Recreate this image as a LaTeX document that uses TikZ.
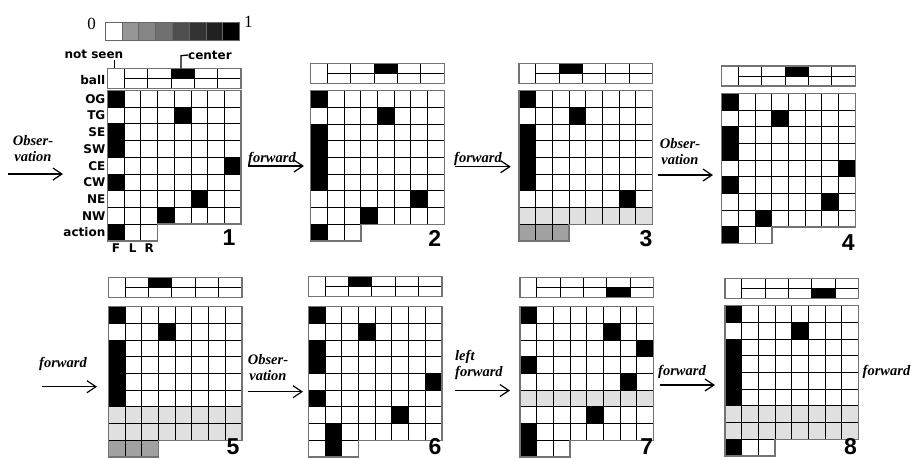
\documentclass[tikz,border=0pt]{standalone}
\usepackage{fontspec}
\setmainfont{Liberation Serif}
\newfontfamily\lblfont{DejaVu Sans}
\newfontfamily\numfont{Liberation Sans}
\usetikzlibrary{arrows.meta}
\def\cs{16.7}
\def\bw{23.38}
\newcommand{\cellk}[3]{\fill[#3] ({(#1-1)*\cs},{(#2-1)*\cs}) rectangle ++(\cs,\cs);}
\newcommand{\rowk}[2]{\fill[#2] (0,{(#1-1)*\cs}) rectangle ++(8*\cs,\cs);}
\newcommand{\ballk}[2]{\fill[black] ({\cs+(#1-1)*\bw},{\by+(#2-1)*10}) rectangle ++(\bw,10);}
\newcommand{\board}[5]{%
\begin{scope}[shift={(#2,#3)}]
  \def\by{#4}
  #5
  \foreach \i in {1,...,7} \draw[gline] (\i*\cs,0) -- (\i*\cs,8*\cs);
  \foreach \i in {1,2} \draw[gline] (\i*\cs,8*\cs) -- (\i*\cs,9*\cs);
  \foreach \j in {1,...,7} \draw[gline] (0,\j*\cs) -- (8*\cs,\j*\cs);
  \draw[gline] (0,8*\cs) -- (3*\cs,8*\cs);
  \draw[gborder] (0,0) -- (8*\cs,0) -- (8*\cs,8*\cs) -- (3*\cs,8*\cs) -- (3*\cs,9*\cs) -- (0,9*\cs) -- cycle;
  \draw[gline] (\cs,#4+10) -- (8*\cs,#4+10);
  \foreach \k in {0,...,4} \draw[gline] (\cs+\k*\bw,#4) -- (\cs+\k*\bw,#4+20);
  \draw[gborder] (0,#4) rectangle (8*\cs,#4+20);
  \coordinate (#1) at (0,0);
\end{scope}}
\tikzset{
  gline/.style={line width=0.9pt, draw=black},
  gborder/.style={line width=1.4pt, draw=black!55},
  rowlbl/.style={font=\lblfont\bfseries\fontsize{12}{12}\selectfont, anchor=east, inner sep=0pt},
  toplbl/.style={font=\lblfont\bfseries\fontsize{12}{12}\selectfont, inner sep=0pt},
  act/.style={font=\bfseries\itshape\fontsize{14.5}{14.5}\selectfont, inner sep=0pt, anchor=base},
  flow/.style={line width=1.2pt, -{Straight Barb[length=9pt,width=12pt]}},
  bignum/.style={font=\numfont\bfseries\fontsize{23}{23}\selectfont, inner sep=0pt},
  lgray/.style={fill=black!12},
  mgray/.style={fill=black!37},
  bar/.style={draw=black!60, line width=0.6pt}
}
\begin{document}
\begin{tikzpicture}[x=1pt,y=-1pt]
\useasboundingbox (0,0) rectangle (911,459);
% colour scale
\foreach \c [count=\n from 0] in {white,black!41,black!48,black!56,black!69,black!80,black!87,black}
  \fill[\c] (105+\n*16.8,22.3) rectangle ++(16.8,17.7);
\foreach \n in {0,...,7} \draw[bar] (105+\n*16.8,22.3) rectangle ++(16.8,17.7);
\node[font=\fontsize{17}{17}\selectfont, inner sep=0pt] (zero) at (91.7,23.5) {0};
\node[font=\fontsize{17}{17}\selectfont, inner sep=0pt] (one) at (248.3,22) {1};

% boards
\board{g1}{107.5}{90.5}{-22.2}{\cellk{1}{1}{black}\cellk{5}{2}{black}\cellk{1}{3}{black}\cellk{1}{4}{black}\cellk{8}{5}{black}\cellk{1}{6}{black}\cellk{6}{7}{black}\cellk{4}{8}{black}\cellk{1}{9}{black}\ballk{3}{1}}
\board{g2}{310.7}{90.7}{-27.4}{\cellk{1}{1}{black}\cellk{5}{2}{black}\cellk{1}{3}{black}\cellk{1}{4}{black}\cellk{1}{5}{black}\cellk{1}{6}{black}\cellk{7}{7}{black}\cellk{4}{8}{black}\cellk{1}{9}{black}\ballk{3}{1}}
\board{g3}{519}{90.7}{-27.4}{\cellk{1}{1}{black}\cellk{4}{2}{black}\cellk{1}{3}{black}\cellk{1}{4}{black}\cellk{1}{5}{black}\cellk{1}{6}{black}\cellk{7}{7}{black}\rowk{8}{lgray}\cellk{1}{9}{mgray}\cellk{2}{9}{mgray}\cellk{3}{9}{mgray}\ballk{2}{1}}
\board{g4}{721.7}{93.3}{-27.3}{\cellk{1}{1}{black}\cellk{4}{2}{black}\cellk{1}{3}{black}\cellk{1}{4}{black}\cellk{8}{5}{black}\cellk{1}{6}{black}\cellk{7}{7}{black}\cellk{3}{8}{black}\cellk{1}{9}{black}\ballk{3}{1}}
\board{g5}{108.3}{306.7}{-29}{\cellk{1}{1}{black}\cellk{4}{2}{black}\cellk{1}{3}{black}\cellk{1}{4}{black}\cellk{1}{5}{black}\cellk{1}{6}{black}\rowk{7}{lgray}\rowk{8}{lgray}\cellk{1}{9}{mgray}\cellk{2}{9}{mgray}\cellk{3}{9}{mgray}\ballk{2}{1}}
\board{g6}{308.3}{306.7}{-30}{\cellk{1}{1}{black}\cellk{4}{2}{black}\cellk{1}{3}{black}\cellk{1}{4}{black}\cellk{8}{5}{black}\cellk{1}{6}{black}\cellk{6}{7}{black}\cellk{2}{8}{black}\cellk{2}{9}{black}\ballk{2}{1}}
\board{g7}{520}{306.7}{-29.4}{\cellk{1}{1}{black}\cellk{6}{2}{black}\cellk{8}{3}{black}\cellk{1}{4}{black}\cellk{7}{5}{black}\rowk{6}{lgray}\cellk{5}{7}{black}\cellk{1}{8}{black}\cellk{1}{9}{black}\ballk{4}{2}}
\board{g8}{725}{305.7}{-27.4}{\cellk{1}{1}{black}\cellk{5}{2}{black}\cellk{1}{3}{black}\cellk{1}{4}{black}\cellk{1}{5}{black}\cellk{1}{6}{black}\rowk{7}{lgray}\rowk{8}{lgray}\cellk{1}{9}{black}\ballk{4}{2}}

% labels of board 1
\foreach \t [count=\n from 1] in {OG,TG,SE,SW,CE,CW,NE,NW,action}
  \node[rowlbl] (lbl\n) at (105.5,{90.5+(\n-0.5)*16.7}) {\t};
\node[rowlbl] (lball) at (105.5,80.3) {ball};
\node[toplbl] (lF) at (115.9,248.5) {F};
\node[toplbl] (lL) at (132.6,248.5) {L};
\node[toplbl] (lR) at (149.3,248.5) {R};
\node[toplbl, anchor=east] (lns) at (123.5,54.3) {not seen};
\coordinate (nsa) at (114.3,60);
\coordinate (nsb) at (114.3,68.3);
\draw[line width=1.3pt] (nsa) -- (nsb);
\node[toplbl, anchor=west] (lctr) at (188,55) {center};
\coordinate (cta) at (181,68.3);
\coordinate (ctb) at (181,55.7);
\draw[line width=1.3pt] (cta) -- (ctb) -- (lctr.west);

% numbers
\node[bignum] (n1) at (229,237.7) {1};
\node[bignum] (n2) at (434.7,238.3) {2};
\node[bignum] (n3) at (646,238.3) {3};
\node[bignum] (n4) at (848.3,242.5) {4};
\node[bignum] (n5) at (233,447) {5};
\node[bignum] (n6) at (435,447) {6};
\node[bignum] (n7) at (646.7,447) {7};
\node[bignum] (n8) at (850.5,447) {8};

% transitions
\coordinate (a1s) at (8,174);   \coordinate (a1e) at (63,174);
\coordinate (a2s) at (248,166); \coordinate (a2e) at (304,166);
\coordinate (a3s) at (455,166.7); \coordinate (a3e) at (510.7,166.7);
\coordinate (a4s) at (658,175); \coordinate (a4e) at (713,175);
\coordinate (a5s) at (42,386.7); \coordinate (a5e) at (97,386.7);
\coordinate (a6s) at (248,391.7); \coordinate (a6e) at (303,391.7);
\coordinate (a7s) at (455,390.5); \coordinate (a7e) at (510,390.5);
\coordinate (a8s) at (660,385); \coordinate (a8e) at (715,385);
\foreach \a in {1,...,8} \draw[flow] (a\a s) -- (a\a e);

\node[act] (t1a) at (33,145.7) {Obser-};
\node[act] (t1b) at (33,161.7) {vation};
\node[act] (t2) at (272,162.7) {forward};
\node[act] (t3) at (478,162.7) {forward};
\node[act] (t4a) at (680,148) {Obser-};
\node[act] (t4b) at (680,164.3) {vation};
\node[act] (t5) at (63,367.3) {forward};
\node[act] (t6a) at (268,364) {Obser-};
\node[act] (t6b) at (268,380.7) {vation};
\node[act, anchor=base west] (t7a) at (455,360.7) {left};
\node[act, anchor=base west] (t7b) at (455,376) {forward};
\node[act] (t8) at (682,375) {forward};
\node[act] (t9) at (886.5,375.5) {forward};
\end{tikzpicture}
\end{document}
